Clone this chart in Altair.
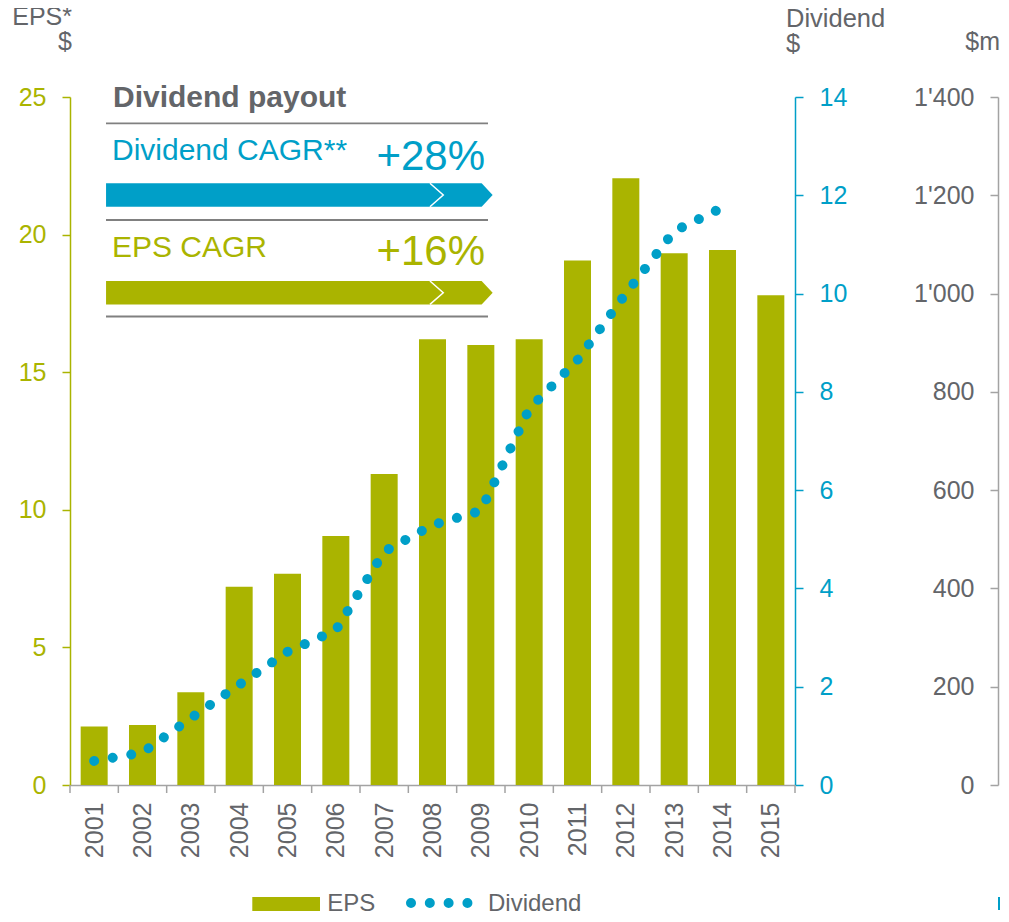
import altair as alt
import pandas as pd

# ---------------- data ----------------
years = list(range(2001, 2016))
eps = [2.13, 2.18, 3.37, 7.2, 7.68, 9.05, 11.3, 16.2, 15.99, 16.2, 19.06, 22.05, 19.32, 19.44, 17.8]
div_years = list(range(2001, 2015))
dividend = [0.49, 0.66, 1.36, 2.04, 2.71, 3.15, 4.75, 5.29, 5.58, 7.65, 8.65, 10.0, 11.27, 11.75]
eps_ticks = [0, 5, 10, 15, 20, 25]
div_ticks = [0, 2, 4, 6, 8, 10, 12, 14]
payout_ticks = [0, 200, 400, 600, 800, 1000, 1200, 1400]
inset_title = "Dividend payout"
inset_labels = ["Dividend CAGR**", "EPS CAGR"]
inset_values = ["+28%", "+16%"]
legend_labels = ["EPS", "Dividend"]

# ---------------- style ----------------
FONT = "Liberation Sans"
OLIVE = "#aab400"
BLUE = "#009fc8"
GRAY = "#636569"
AXGRAY = "#a3a3a3"
LINEGRAY = "#808080"
TICKFS = 25
W, H = 725, 688
LEG_Y = 814  # legend baseline (plot coordinates)

df = pd.DataFrame({"year": years, "eps": eps})
df_div = pd.DataFrame({"year": div_years, "dividend": dividend})
df_bound = pd.DataFrame({"year": [y - 0.5 for y in years] + [years[-1] + 0.5]})
df_m = pd.DataFrame({"m": payout_ticks})
one = pd.DataFrame({"k": [0]})

xscale = alt.Scale(domain=[years[0] - 0.5, years[-1] + 0.5], nice=False, zero=False, padding=0)
xaxis = alt.Axis(values=years, format="d", labelAngle=270, ticks=False,
                 labelPadding=17, labelFontSize=TICKFS, labelColor=GRAY, labelFont=FONT,
                 domainColor=AXGRAY, domainWidth=1.5, grid=False, title=None,
                 labelFlush=False, labelOverlap=False, labels=True)

bars = alt.Chart(df).mark_bar(color=OLIVE, size=27).encode(
    x=alt.X("year:Q", scale=xscale, axis=xaxis),
    y=alt.Y("eps:Q", scale=alt.Scale(domain=[0, 25], nice=False, zero=True),
            axis=alt.Axis(orient="left", values=eps_ticks, title=None, grid=False,
                          domainColor=OLIVE, domainWidth=1.5, tickColor=OLIVE, tickWidth=1.5,
                          tickSize=8, labelColor=OLIVE, labelFontSize=TICKFS, labelFont=FONT,
                          labelPadding=16, labelFlush=False)),
)

line = alt.Chart(df_div).mark_line(
    color=BLUE, strokeWidth=10, strokeDash=[0.01, 18.8], strokeCap="round"
).encode(
    x=alt.X("year:Q", scale=xscale, axis=xaxis),
    y=alt.Y("dividend:Q", scale=alt.Scale(domain=[0, 14], nice=False, zero=True),
            axis=alt.Axis(orient="right", values=div_ticks, title=None, grid=False,
                          domainColor=BLUE, domainWidth=1.5, tickColor=BLUE, tickWidth=1.5,
                          tickSize=8, labelColor=BLUE, labelFontSize=TICKFS, labelFont=FONT,
                          labelPadding=16, labelFlush=False)),
)

mlayer = alt.Chart(df_m).mark_point(opacity=0).encode(
    y=alt.Y("m:Q", scale=alt.Scale(domain=[0, 1400], nice=False, zero=True),
            axis=alt.Axis(orient="left", offset=-928, values=payout_ticks, title=None, grid=False,
                          labelExpr="replace(format(datum.value, ','), ',', \"'\")",
                          domainColor=AXGRAY, domainWidth=1.5, tickColor=AXGRAY, tickWidth=1.5,
                          tickSize=8, labelColor=GRAY, labelFontSize=TICKFS, labelFont=FONT,
                          labelPadding=16, labelFlush=False)),
)

xticks = alt.Chart(df_bound).mark_rule(color=AXGRAY, strokeWidth=1.5).encode(
    x=alt.X("year:Q", scale=xscale, axis=xaxis),
    y=alt.value(H), y2=alt.value(H + 8),
)


def label(text, x, y, size, color, align="left", weight="normal", line_height=None):
    kw = dict(text=text, fontSize=size, color=color, align=align, baseline="alphabetic",
              font=FONT, fontWeight=weight)
    if line_height:
        kw["lineHeight"] = line_height
    return alt.Chart(one).mark_text(**kw).encode(x=alt.value(x), y=alt.value(y))


def hline(y):
    return alt.Chart(one).mark_rule(color=LINEGRAY, strokeWidth=1.8).encode(
        x=alt.value(36), x2=alt.value(418), y=alt.value(y))


ARROW = "M-193.3,-11.7L182.3,-11.7L193.3,0L182.3,11.7L-193.3,11.7Z"
CHEV = "M130.6,-11.7L143.9,0L130.6,11.7"


def arrow(y, color):
    body = alt.Chart(one).mark_point(shape=ARROW, size=4, filled=True, color=color,
                                     opacity=1, strokeWidth=0).encode(
        x=alt.value(229.35), y=alt.value(y))
    chev = alt.Chart(one).mark_point(shape=CHEV, size=4, filled=False, stroke="white",
                                     strokeWidth=1.5, opacity=1).encode(
        x=alt.value(229.35), y=alt.value(y))
    return body + chev


titles = (
    label(["EPS*", "$"], 2, -72, 25, GRAY, align="right", line_height=25)
    + label(["Dividend", "$"], 716, -70, 25.5, GRAY, align="left", line_height=25)
    + label("$m", 930, -47, 25, GRAY, align="right")
)

inset = (
    label(inset_title, 43, 10, 30, GRAY, weight="bold")
    + hline(26.3)
    + label(inset_labels[0], 42, 63, 30, BLUE)
    + label(inset_values[0], 415, 73, 42, BLUE, align="right")
    + arrow(98, BLUE)
    + hline(123)
    + label(inset_labels[1], 42, 160, 30, OLIVE)
    + label(inset_values[1], 415, 168, 42, OLIVE, align="right")
    + arrow(195.7, OLIVE)
    + hline(219.5)
)

legend = (
    alt.Chart(one).mark_rect(color=OLIVE).encode(
        x=alt.value(182.3), x2=alt.value(250), y=alt.value(LEG_Y - 14), y2=alt.value(LEG_Y))
    + label(legend_labels[0], 257.3, LEG_Y, 24, GRAY)
    + alt.Chart(one).mark_rule(color=BLUE, strokeWidth=10, strokeDash=[0.01, 18.8],
                               strokeCap="round").encode(
        x=alt.value(341), x2=alt.value(397.6), y=alt.value(LEG_Y - 8))
    + label(legend_labels[1], 418, LEG_Y, 24, GRAY)
    + alt.Chart(one).mark_rule(color=BLUE, strokeWidth=2).encode(
        x=alt.value(929), y=alt.value(LEG_Y - 14), y2=alt.value(LEG_Y - 1))
)

chart = (
    alt.layer(bars, line, mlayer, xticks, titles, inset, legend)
    .resolve_scale(y="independent")
    .properties(
        width=W, height=H,
        autosize=alt.AutoSizeParams(type="none"),
        padding={"left": 62, "top": 89, "right": 206, "bottom": 128},
        background="white",
    )
    .configure_view(stroke=None)
)

chart.save("out.html", embed_options={"renderer": "svg", "actions": False})
